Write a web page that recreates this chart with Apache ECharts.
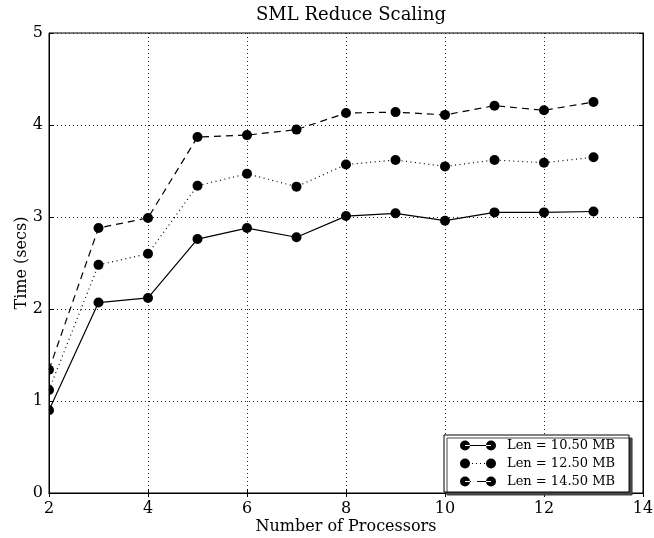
<!DOCTYPE html>
<html>
<head>
<meta charset="UTF-8">
<title>SML Reduce Scaling</title>
<script src="https://cdn.jsdelivr.net/npm/echarts@6/dist/echarts.min.js"></script>
<style>
  html, body { margin: 0; padding: 0; background: #fff; }
  #chart { width: 654px; height: 538px; }
</style>
</head>
<body>
<div id="chart"></div>
<script>
// processors (x) and timings in seconds
var procs = [2, 3, 4, 5, 6, 7, 8, 9, 10, 11, 12, 13];
var len1050 = [0.90, 2.07, 2.12, 2.76, 2.88, 2.78, 3.01, 3.04, 2.96, 3.05, 3.05, 3.06];
var len1250 = [1.12, 2.48, 2.60, 3.34, 3.47, 3.33, 3.57, 3.62, 3.55, 3.62, 3.59, 3.65];
var len1450 = [1.34, 2.88, 2.99, 3.87, 3.89, 3.95, 4.13, 4.14, 4.11, 4.21, 4.16, 4.25];
var seriesNames = ['Len = 10.50 MB', 'Len = 12.50 MB', 'Len = 14.50 MB'];
var lineTypes = ['solid', [1, 3.5], [7, 5]];

var font = "'DejaVu Serif', 'Liberation Serif', serif";

// markers sitting on the left frame are cut in half in the original
var halfDot = 'path://M0,0A5,5 0 0,1 0,10Z';

function pairs(vals) {
  var out = [];
  for (var i = 0; i < procs.length; i++) {
    if (i == 0) {
      out.push({ value: [procs[i], vals[i]], symbol: halfDot, symbolSize: [5, 10], symbolOffset: [2.5, 0] });
    } else {
      out.push([procs[i], vals[i]]);
    }
  }
  return out;
}

// legend icons: marker - line - marker (36x10)
var circles = 'M0,5a5,5 0 1,0 10,0a5,5 0 1,0 -10,0Z M26,5a5,5 0 1,0 10,0a5,5 0 1,0 -10,0Z';
var icons = [
  'path://' + circles + ' M5,4.5L31,4.5L31,5.5L5,5.5Z',
  'path://' + circles + ' M12,4.5L13,4.5L13,5.5L12,5.5Z M16,4.5L17,4.5L17,5.5L16,5.5Z M20,4.5L21,4.5L21,5.5L20,5.5Z M24,4.5L25,4.5L25,5.5L24,5.5Z',
  'path://' + circles + ' M5,4.5L11,4.5L11,5.5L5,5.5Z M17,4.5L31,4.5L31,5.5L17,5.5Z'
];

var allData = [len1050, len1250, len1450];
var ss = [];
for (var k = 0; k < 3; k++) {
  ss.push({
    name: seriesNames[k],
    type: 'line',
    data: pairs(allData[k]),
    symbol: 'circle',
    symbolSize: 10,
    color: '#000',
    lineStyle: { color: '#000', width: 1.2, type: lineTypes[k] },
    itemStyle: { color: '#000' },
    clip: true,
    animation: false
  });
}

var gridLine = { show: true, lineStyle: { color: '#222', type: [1, 3], width: 1 } };
var tick = { show: true, inside: true, length: 4, lineStyle: { color: '#000' } };

var myChart = echarts.init(document.getElementById('chart'), null, { renderer: 'canvas' });
myChart.setOption({
  animation: false,
  title: {
    text: 'SML Reduce Scaling',
    left: 346,
    textAlign: 'center',
    top: 1,
    textStyle: { fontFamily: font, fontSize: 18, fontWeight: 'normal', color: '#000' }
  },
  grid: {
    left: 49, top: 33, width: 594, height: 460,
    outerBoundsMode: 'none',
    show: true, borderColor: '#000', borderWidth: 1
  },
  legend: {
    orient: 'vertical',
    left: 444,
    top: 435,
    itemWidth: 36,
    itemHeight: 10,
    itemGap: 5,
    padding: [4, 14, 4, 16],
    backgroundColor: '#fff',
    borderColor: '#000',
    borderWidth: 1,
    shadowColor: '#444',
    shadowBlur: 0,
    shadowOffsetX: 3,
    shadowOffsetY: 3,
    textStyle: { fontFamily: font, fontSize: 13, color: '#000', padding: [0, 0, 0, 6] },
    data: [
      { name: seriesNames[0], icon: icons[0] },
      { name: seriesNames[1], icon: icons[1] },
      { name: seriesNames[2], icon: icons[2] }
    ]
  },
  xAxis: [{
    type: 'value',
    min: 2, max: 14, interval: 2,
    name: 'Number of Processors',
    nameLocation: 'middle',
    nameGap: 26,
    nameMoveOverlap: false,
    nameTextStyle: { fontFamily: font, fontSize: 16, color: '#000' },
    axisLine: { show: true, lineStyle: { color: '#000', width: 1 } },
    axisTick: tick,
    axisLabel: { fontFamily: font, fontSize: 16, color: '#000', margin: 8 },
    splitLine: gridLine
  }, {
    type: 'value',
    position: 'top',
    min: 2, max: 14, interval: 2,
    axisLine: { show: true, lineStyle: { color: '#000', width: 1 } },
    axisTick: tick,
    axisLabel: { show: false },
    splitLine: { show: false }
  }],
  yAxis: [{
    type: 'value',
    min: 0, max: 5, interval: 1,
    name: 'Time (secs)',
    nameLocation: 'middle',
    nameGap: 19,
    nameMoveOverlap: false,
    nameTextStyle: { fontFamily: font, fontSize: 16, color: '#000' },
    axisLine: { show: true, lineStyle: { color: '#000', width: 1 } },
    axisTick: tick,
    axisLabel: { fontFamily: font, fontSize: 16, color: '#000', margin: 6 },
    splitLine: gridLine
  }, {
    type: 'value',
    position: 'right',
    min: 0, max: 5, interval: 1,
    axisLine: { show: true, lineStyle: { color: '#000', width: 1 } },
    axisTick: tick,
    axisLabel: { show: false },
    splitLine: { show: false }
  }],
  series: ss
});
</script>
</body>
</html>
